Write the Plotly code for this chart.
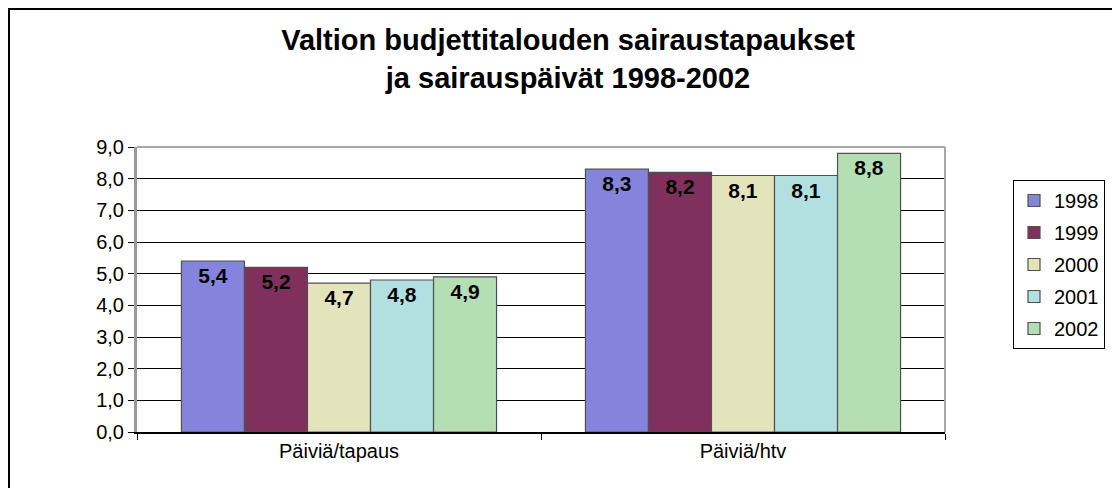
import plotly.graph_objects as go

categories = ["Päiviä/tapaus", "Päiviä/htv"]
years = ["1998", "1999", "2000", "2001", "2002"]
values = {
    "1998": [5.4, 8.3],
    "1999": [5.2, 8.2],
    "2000": [4.7, 8.1],
    "2001": [4.8, 8.1],
    "2002": [4.9, 8.8],
}
colors = {
    "1998": "#8484dc",
    "1999": "#80305c",
    "2000": "#e4e4bc",
    "2001": "#b2e0e0",
    "2002": "#b4deb4",
}
y_ticks = [0, 1, 2, 3, 4, 5, 6, 7, 8, 9]

# page body adds an 8px offset; work in figure pixels = viewport - 8
OFF = 8
W, H = 1112, 480
L, T = 137 - OFF, 147 - OFF
pw, ph = 808, 285
R, B = W - L - pw, H - T - ph

fig = go.Figure()
for yr in years:
    fig.add_trace(go.Bar(
        x=categories, y=values[yr], name=yr, legendgroup=yr,
        marker=dict(color=colors[yr], line=dict(color="#505050", width=1.2)),
        texttemplate="%{y:.1f}", textposition="inside", insidetextanchor="end",
        textangle=0,
        textfont=dict(family="Liberation Sans", size=21, color="black", weight="bold"),
    ))

def px_x(p):
    return (p - OFF - L) / pw

def px_y(p):
    return (T + ph - (p - OFF)) / ph

fig.update_layout(
    width=W, height=H,
    margin=dict(l=L, r=R, t=T, b=B),
    paper_bgcolor="white", plot_bgcolor="white",
    separators=", ",
    barmode="group", bargap=0.22, bargroupgap=0,
    font=dict(family="Liberation Sans", color="black"),
    title=dict(
        text="Valtion budjettitalouden sairaustapaukset<br>ja sairauspäivät 1998-2002",
        font=dict(family="Liberation Sans", size=29, color="black", weight="bold"),
        x=(568 - OFF) / W, xref="container", xanchor="center",
        y=1 - (50 - OFF) / H, yref="container", yanchor="top",
    ),
    legend=dict(
        x=px_x(1013), y=px_y(180), xanchor="left", yanchor="top",
        bordercolor="black", borderwidth=1,
        font=dict(family="Liberation Sans", size=20, color="black"),
        traceorder="grouped", tracegroupgap=3,
    ),
    xaxis=dict(
        showline=True, linecolor="black", linewidth=2,
        ticks="outside", tickson="boundaries", ticklen=6, tickcolor="black",
        tickfont=dict(family="Liberation Sans", size=20, color="black"),
        showgrid=False,
    ),
    yaxis=dict(
        range=[0, 9], tickvals=y_ticks, tickformat=".1f",
        showline=True, linecolor="#9a9a9a", linewidth=3,
        ticks="outside", ticklen=6, tickcolor="black",
        tickfont=dict(family="Liberation Sans", size=20, color="black"),
        showgrid=True, gridcolor="black", gridwidth=1,
        zeroline=False,
    ),
    shapes=[
        dict(type="line", xref="paper", yref="paper", x0=0, x1=1, y0=1, y1=1,
             line=dict(color="#a8a8a8", width=2), layer="above"),
        dict(type="line", xref="paper", yref="paper", x0=1, x1=1, y0=0, y1=1,
             line=dict(color="#a8a8a8", width=2), layer="above"),
        dict(type="rect", xref="paper", yref="paper",
             x0=px_x(9), x1=px_x(1140), y0=px_y(9), y1=px_y(500),
             line=dict(color="black", width=2), layer="below"),
    ],
)

fig.write_html("out.html")
